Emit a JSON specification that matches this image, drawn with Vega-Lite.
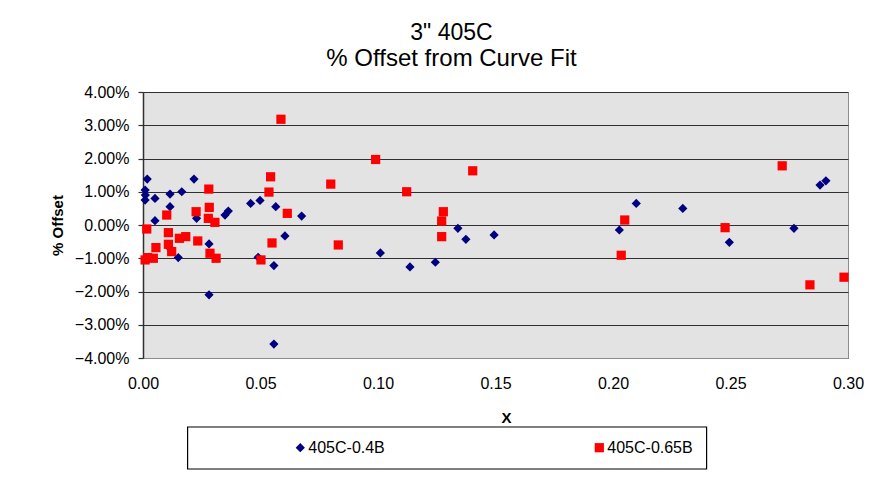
{
  "$schema": "https://vega.github.io/schema/vega-lite/v6.json",
  "width": 705,
  "height": 266,
  "autosize": "none",
  "padding": {"left": 143, "top": 92, "right": 40, "bottom": 128},
  "background": "white",
  "title": {
    "text": "3\" 405C",
    "subtitle": "% Offset from Curve Fit",
    "font": "Liberation Sans",
    "subtitleFont": "Liberation Sans",
    "fontSize": 23,
    "subtitleFontSize": 24,
    "fontWeight": "normal",
    "color": "black",
    "subtitleColor": "black",
    "anchor": "middle",
    "dx": -44,
    "subtitlePadding": 2,
    "offset": 13
  },
  "config": {
    "font": "Liberation Sans",
    "view": {"fill": "#e3e3e3", "stroke": "#8c8c8c", "strokeWidth": 1},
    "legend": {
      "orient": "none",
      "legendX": 44.3,
      "legendY": 334.7,
      "direction": "horizontal",
      "strokeColor": "black",
      "strokeWidth": 1.2,
      "fillColor": "white",
      "padding": 13,
      "symbolOffset": 92,
      "columnPadding": 114,
      "labelFontSize": 16,
      "labelColor": "black",
      "labelOffset": 0,
      "symbolSize": 85,
      "symbolStrokeWidth": 0
    }
  },
  "data": {
    "values": [
      {"x": 0.0018, "y": 0.0138, "series": "405C-0.4B"},
      {"x": 0.0009, "y": 0.0105, "series": "405C-0.4B"},
      {"x": 0.0010, "y": 0.0090, "series": "405C-0.4B"},
      {"x": 0.0009, "y": 0.0075, "series": "405C-0.4B"},
      {"x": 0.0051, "y": 0.0080, "series": "405C-0.4B"},
      {"x": 0.0115, "y": 0.0093, "series": "405C-0.4B"},
      {"x": 0.0115, "y": 0.0055, "series": "405C-0.4B"},
      {"x": 0.0051, "y": 0.0013, "series": "405C-0.4B"},
      {"x": 0.0165, "y": 0.0100, "series": "405C-0.4B"},
      {"x": 0.0217, "y": 0.0138, "series": "405C-0.4B"},
      {"x": 0.0228, "y": 0.0020, "series": "405C-0.4B"},
      {"x": 0.0115, "y": -0.0070, "series": "405C-0.4B"},
      {"x": 0.0150, "y": -0.0098, "series": "405C-0.4B"},
      {"x": 0.0281, "y": -0.0057, "series": "405C-0.4B"},
      {"x": 0.0281, "y": -0.0210, "series": "405C-0.4B"},
      {"x": 0.0349, "y": 0.0030, "series": "405C-0.4B"},
      {"x": 0.0363, "y": 0.0042, "series": "405C-0.4B"},
      {"x": 0.0458, "y": 0.0065, "series": "405C-0.4B"},
      {"x": 0.0498, "y": 0.0074, "series": "405C-0.4B"},
      {"x": 0.0565, "y": 0.0055, "series": "405C-0.4B"},
      {"x": 0.0675, "y": 0.0027, "series": "405C-0.4B"},
      {"x": 0.0604, "y": -0.0033, "series": "405C-0.4B"},
      {"x": 0.0490, "y": -0.0097, "series": "405C-0.4B"},
      {"x": 0.0557, "y": -0.0122, "series": "405C-0.4B"},
      {"x": 0.0557, "y": -0.0358, "series": "405C-0.4B"},
      {"x": 0.1010, "y": -0.0084, "series": "405C-0.4B"},
      {"x": 0.1136, "y": -0.0126, "series": "405C-0.4B"},
      {"x": 0.1244, "y": -0.0112, "series": "405C-0.4B"},
      {"x": 0.1340, "y": -0.0010, "series": "405C-0.4B"},
      {"x": 0.1374, "y": -0.0043, "series": "405C-0.4B"},
      {"x": 0.1494, "y": -0.0030, "series": "405C-0.4B"},
      {"x": 0.2027, "y": -0.0015, "series": "405C-0.4B"},
      {"x": 0.2099, "y": 0.0065, "series": "405C-0.4B"},
      {"x": 0.2297, "y": 0.0050, "series": "405C-0.4B"},
      {"x": 0.2495, "y": -0.0052, "series": "405C-0.4B"},
      {"x": 0.2770, "y": -0.0010, "series": "405C-0.4B"},
      {"x": 0.2881, "y": 0.0120, "series": "405C-0.4B"},
      {"x": 0.2906, "y": 0.0133, "series": "405C-0.4B"},
      {"x": 0.0016, "y": -0.0012, "series": "405C-0.65B"},
      {"x": 0.0009, "y": -0.0105, "series": "405C-0.65B"},
      {"x": 0.0020, "y": -0.0098, "series": "405C-0.65B"},
      {"x": 0.0044, "y": -0.0100, "series": "405C-0.65B"},
      {"x": 0.0055, "y": -0.0068, "series": "405C-0.65B"},
      {"x": 0.0101, "y": 0.0030, "series": "405C-0.65B"},
      {"x": 0.0108, "y": -0.0023, "series": "405C-0.65B"},
      {"x": 0.0108, "y": -0.0058, "series": "405C-0.65B"},
      {"x": 0.0122, "y": -0.0080, "series": "405C-0.65B"},
      {"x": 0.0155, "y": -0.0040, "series": "405C-0.65B"},
      {"x": 0.0182, "y": -0.0035, "series": "405C-0.65B"},
      {"x": 0.0226, "y": 0.0040, "series": "405C-0.65B"},
      {"x": 0.0233, "y": -0.0048, "series": "405C-0.65B"},
      {"x": 0.0280, "y": 0.0108, "series": "405C-0.65B"},
      {"x": 0.0282, "y": 0.0053, "series": "405C-0.65B"},
      {"x": 0.0278, "y": 0.0020, "series": "405C-0.65B"},
      {"x": 0.0306, "y": 0.0008, "series": "405C-0.65B"},
      {"x": 0.0285, "y": -0.0085, "series": "405C-0.65B"},
      {"x": 0.0311, "y": -0.0100, "series": "405C-0.65B"},
      {"x": 0.0587, "y": 0.0318, "series": "405C-0.65B"},
      {"x": 0.0990, "y": 0.0197, "series": "405C-0.65B"},
      {"x": 0.0543, "y": 0.0145, "series": "405C-0.65B"},
      {"x": 0.0536, "y": 0.0099, "series": "405C-0.65B"},
      {"x": 0.0799, "y": 0.0123, "series": "405C-0.65B"},
      {"x": 0.0614, "y": 0.0035, "series": "405C-0.65B"},
      {"x": 0.0549, "y": -0.0054, "series": "405C-0.65B"},
      {"x": 0.0831, "y": -0.0060, "series": "405C-0.65B"},
      {"x": 0.0502, "y": -0.0105, "series": "405C-0.65B"},
      {"x": 0.1122, "y": 0.0100, "series": "405C-0.65B"},
      {"x": 0.1403, "y": 0.0163, "series": "405C-0.65B"},
      {"x": 0.1278, "y": 0.0040, "series": "405C-0.65B"},
      {"x": 0.1271, "y": 0.0012, "series": "405C-0.65B"},
      {"x": 0.1271, "y": -0.0035, "series": "405C-0.65B"},
      {"x": 0.2050, "y": 0.0015, "series": "405C-0.65B"},
      {"x": 0.2035, "y": -0.0091, "series": "405C-0.65B"},
      {"x": 0.2477, "y": -0.0008, "series": "405C-0.65B"},
      {"x": 0.2720, "y": 0.0178, "series": "405C-0.65B"},
      {"x": 0.2838, "y": -0.0180, "series": "405C-0.65B"},
      {"x": 0.2983, "y": -0.0157, "series": "405C-0.65B"}
    ]
  },
  "mark": {"type": "point", "filled": true, "opacity": 1, "size": 85, "strokeWidth": 0},
  "encoding": {
    "x": {
      "field": "x",
      "type": "quantitative",
      "scale": {"domain": [0, 0.3], "nice": false, "zero": false},
      "axis": {
        "title": "X",
        "titleFontSize": 15,
        "titleFontWeight": "bold",
        "titleColor": "black",
        "titleX": 363,
        "titleY": 59,
        "titleBaseline": "middle",
        "titleAlign": "center",
        "values": [0, 0.05, 0.1, 0.15, 0.2, 0.25, 0.3],
        "format": ".2f",
        "labelFontSize": 16,
        "labelColor": "black",
        "labelPadding": 17,
        "labelFlush": false,
        "labelOverlap": false,
        "ticks": false,
        "tickSize": 0,
        "grid": false,
        "domainColor": "#8c8c8c",
        "domainWidth": 1
      }
    },
    "y": {
      "field": "y",
      "type": "quantitative",
      "scale": {"domain": [-0.04, 0.04], "nice": false, "zero": false},
      "axis": {
        "title": "% Offset",
        "titleFontSize": 15,
        "titleFontWeight": "bold",
        "titleColor": "black",
        "titleX": -86,
        "titleY": 133,
        "titleAngle": -90,
        "titleBaseline": "middle",
        "titleAlign": "center",
        "values": [-0.04, -0.03, -0.02, -0.01, 0, 0.01, 0.02, 0.03, 0.04],
        "format": ".2%",
        "labelFontSize": 16,
        "labelColor": "black",
        "labelPadding": 9,
        "labelFlush": false,
        "labelOverlap": false,
        "tickSize": 5,
        "tickColor": "#303030",
        "tickWidth": 1.2,
        "grid": true,
        "gridColor": "#303030",
        "gridWidth": 1.2,
        "gridOpacity": 1,
        "domainColor": "#303030",
        "domainWidth": 1.5
      }
    },
    "color": {
      "field": "series",
      "type": "nominal",
      "scale": {"domain": ["405C-0.4B", "405C-0.65B"], "range": ["#000080", "#ff0000"]},
      "legend": {"title": null}
    },
    "shape": {
      "field": "series",
      "type": "nominal",
      "scale": {"domain": ["405C-0.4B", "405C-0.65B"], "range": ["diamond", "square"]},
      "legend": {"title": null}
    }
  }
}
